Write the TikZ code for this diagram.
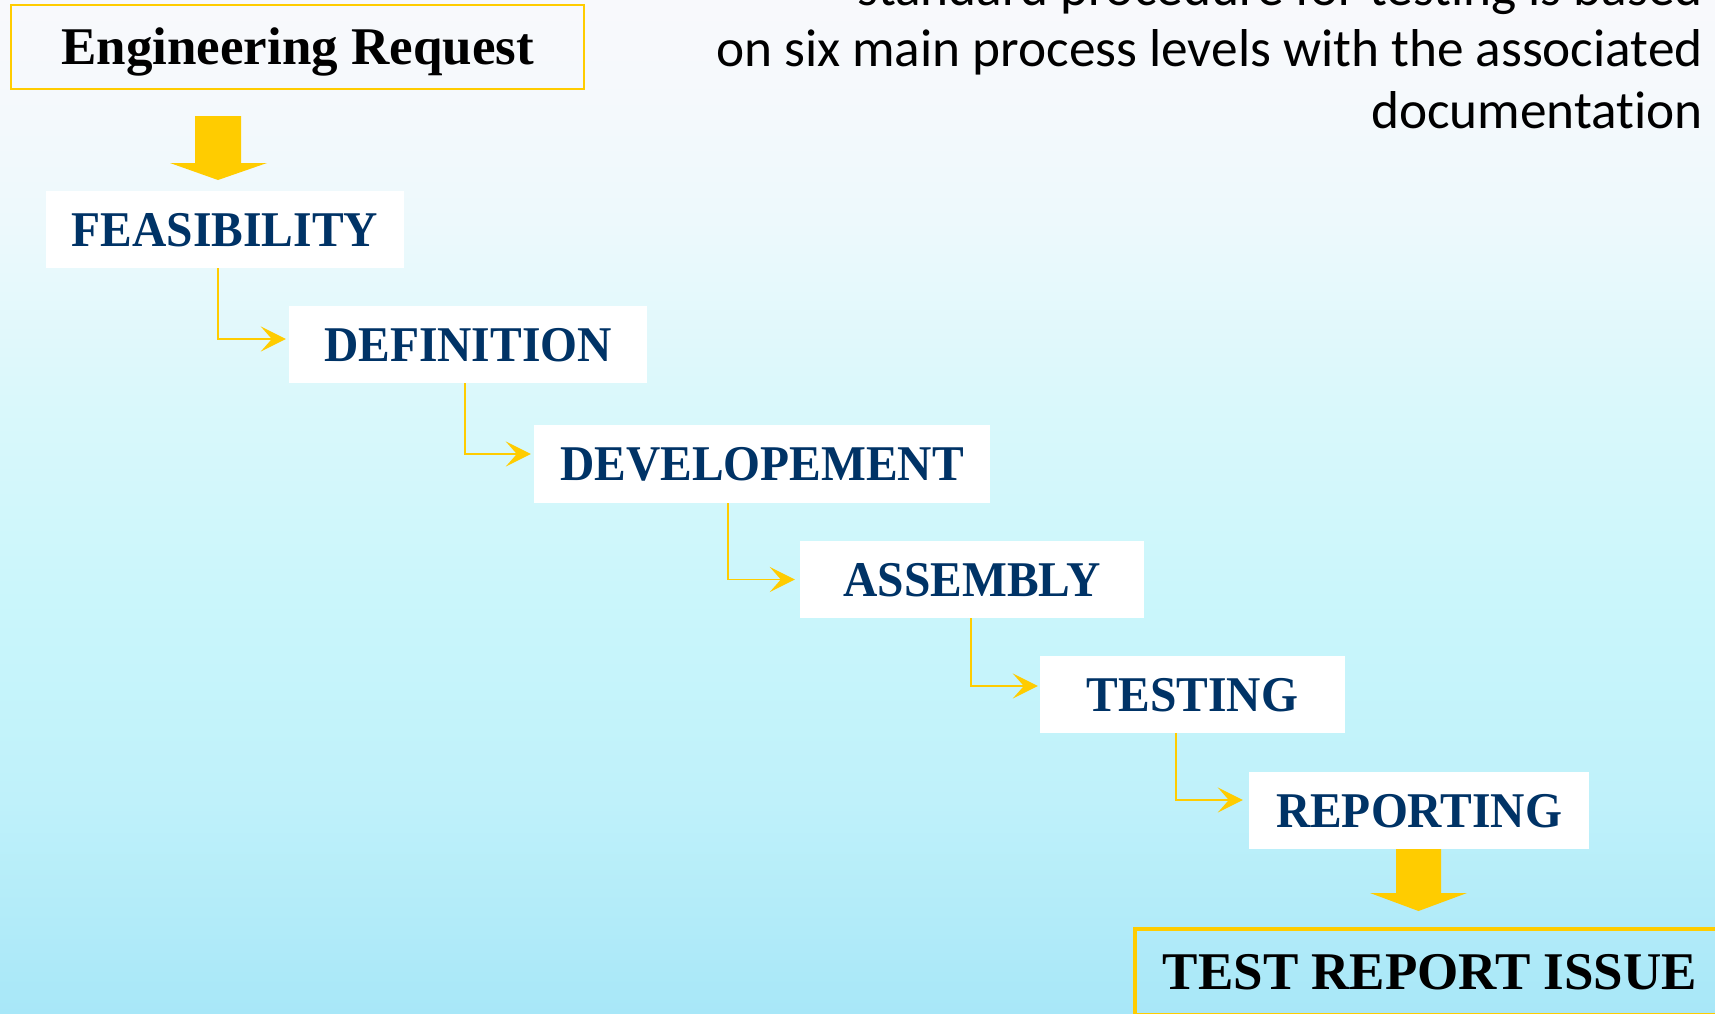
\documentclass[tikz,border=0pt]{standalone}
\usepackage{fontspec}
\usetikzlibrary{arrows.meta}
\newfontfamily\stepfont{Liberation Serif}[FakeStretch=0.95]
\newfontfamily\titlefont{Liberation Serif}
\newfontfamily\notefont{Carlito}[RawFeature={-liga;-calt;-clig;-dlig}]
\definecolor{ylw}{HTML}{FFCC00}
\definecolor{navy}{HTML}{003366}
\definecolor{bgA}{HTML}{A8E7F8}
\definecolor{bgB}{HTML}{BFF1FA}
\definecolor{bgC}{HTML}{CAF6FB}
\definecolor{bgD}{HTML}{DAF8FB}
\definecolor{bgE}{HTML}{EDF9FC}
\definecolor{bgF}{HTML}{F6F9FC}
\definecolor{bgG}{HTML}{F8F9FC}
\pgfdeclareverticalshading{bgshade}{100bp}{color(0bp)=(bgA); color(25bp)=(bgA); color(35.5bp)=(bgB); color(45.4bp)=(bgC); color(55.3bp)=(bgD); color(64.1bp)=(bgE); color(71bp)=(bgF); color(75bp)=(bgG); color(100bp)=(bgG)}
\tikzset{
  stepbox/.style={fill=white, draw=none, inner sep=0pt, text=navy,
    font=\stepfont\bfseries\fontsize{50}{60}\selectfont, text height=33pt, text depth=0pt},
  endbox/.style={draw=ylw, inner sep=0pt, text=black,
    font=\titlefont\bfseries\fontsize{53}{63}\selectfont, text height=35pt, text depth=0pt},
  note/.style={inner sep=0pt, text=black, font=\notefont\fontsize{53.3}{61}\selectfont, anchor=base east},
  conn/.style={draw=ylw, line width=1.6pt, -{Stealth[length=25pt,width=25pt,inset=11pt]}},
  blockarrow/.style={fill=ylw, draw=none}
}
\begin{document}
\begin{tikzpicture}[x=1pt,y=-1pt]
\useasboundingbox (0,0) rectangle (1715,1013);
\clip (0,0) rectangle (1715,1013);
\shade[shading=bgshade] (0,0) rectangle (1715,1013);

% top right note
\node[note] (n1) at (1703,5) {standard procedure for testing is based};
\node[note] (n2) at (1703,66) {on six main process levels with the associated};
\node[note] (n3) at (1703,128) {documentation};

% boxes
\node[endbox, line width=2.5pt, minimum width=573pt, minimum height=84pt] (er) at (297.5,47) {Engineering Request};
\node[stepbox, minimum width=358pt, minimum height=77pt] (feas) at (225,229.5) {FEASIBILITY};
\node[stepbox, minimum width=358pt, minimum height=77pt] (def) at (468,344.5) {DEFINITION};
\node[stepbox, minimum width=456pt, minimum height=78pt] (dev) at (762,464) {DEVELOPEMENT};
\node[stepbox, minimum width=344pt, minimum height=77pt] (asm) at (972,579.5) {ASSEMBLY};
\node[stepbox, minimum width=305pt, minimum height=77pt] (tst) at (1192.5,694.5) {TESTING};
\node[stepbox, minimum width=340pt, minimum height=77pt] (rep) at (1419,810.5) {REPORTING};
\node[endbox, line width=4pt, minimum width=590pt, minimum height=86pt] (tri) at (1430,972) {TEST REPORT ISSUE};

% connectors
\draw[conn] ([xshift=-7pt]feas.south) |- ([xshift=-3pt,yshift=5.5pt]def.west);
\draw[conn] ([xshift=-3pt]def.south) |- ([xshift=-3pt,yshift=10pt]dev.west);
\draw[conn] ([xshift=-34pt]dev.south) |- ([xshift=-5pt]asm.west);
\draw[conn] ([xshift=-1pt]asm.south) |- ([xshift=-2pt,yshift=8.5pt]tst.west);
\draw[conn] ([xshift=-16.5pt]tst.south) |- ([xshift=-6pt,yshift=10.5pt]rep.west);

% block arrows
\fill[blockarrow] (195,116) -- (241,116) -- (241,163) -- (267,163) -- (218,180) -- (170,163) -- (195,163) -- cycle;
\fill[blockarrow] (1396,849) -- (1441,849) -- (1441,893) -- (1467,893) -- (1418.5,911) -- (1370,893) -- (1396,893) -- cycle;
\end{tikzpicture}
\end{document}
